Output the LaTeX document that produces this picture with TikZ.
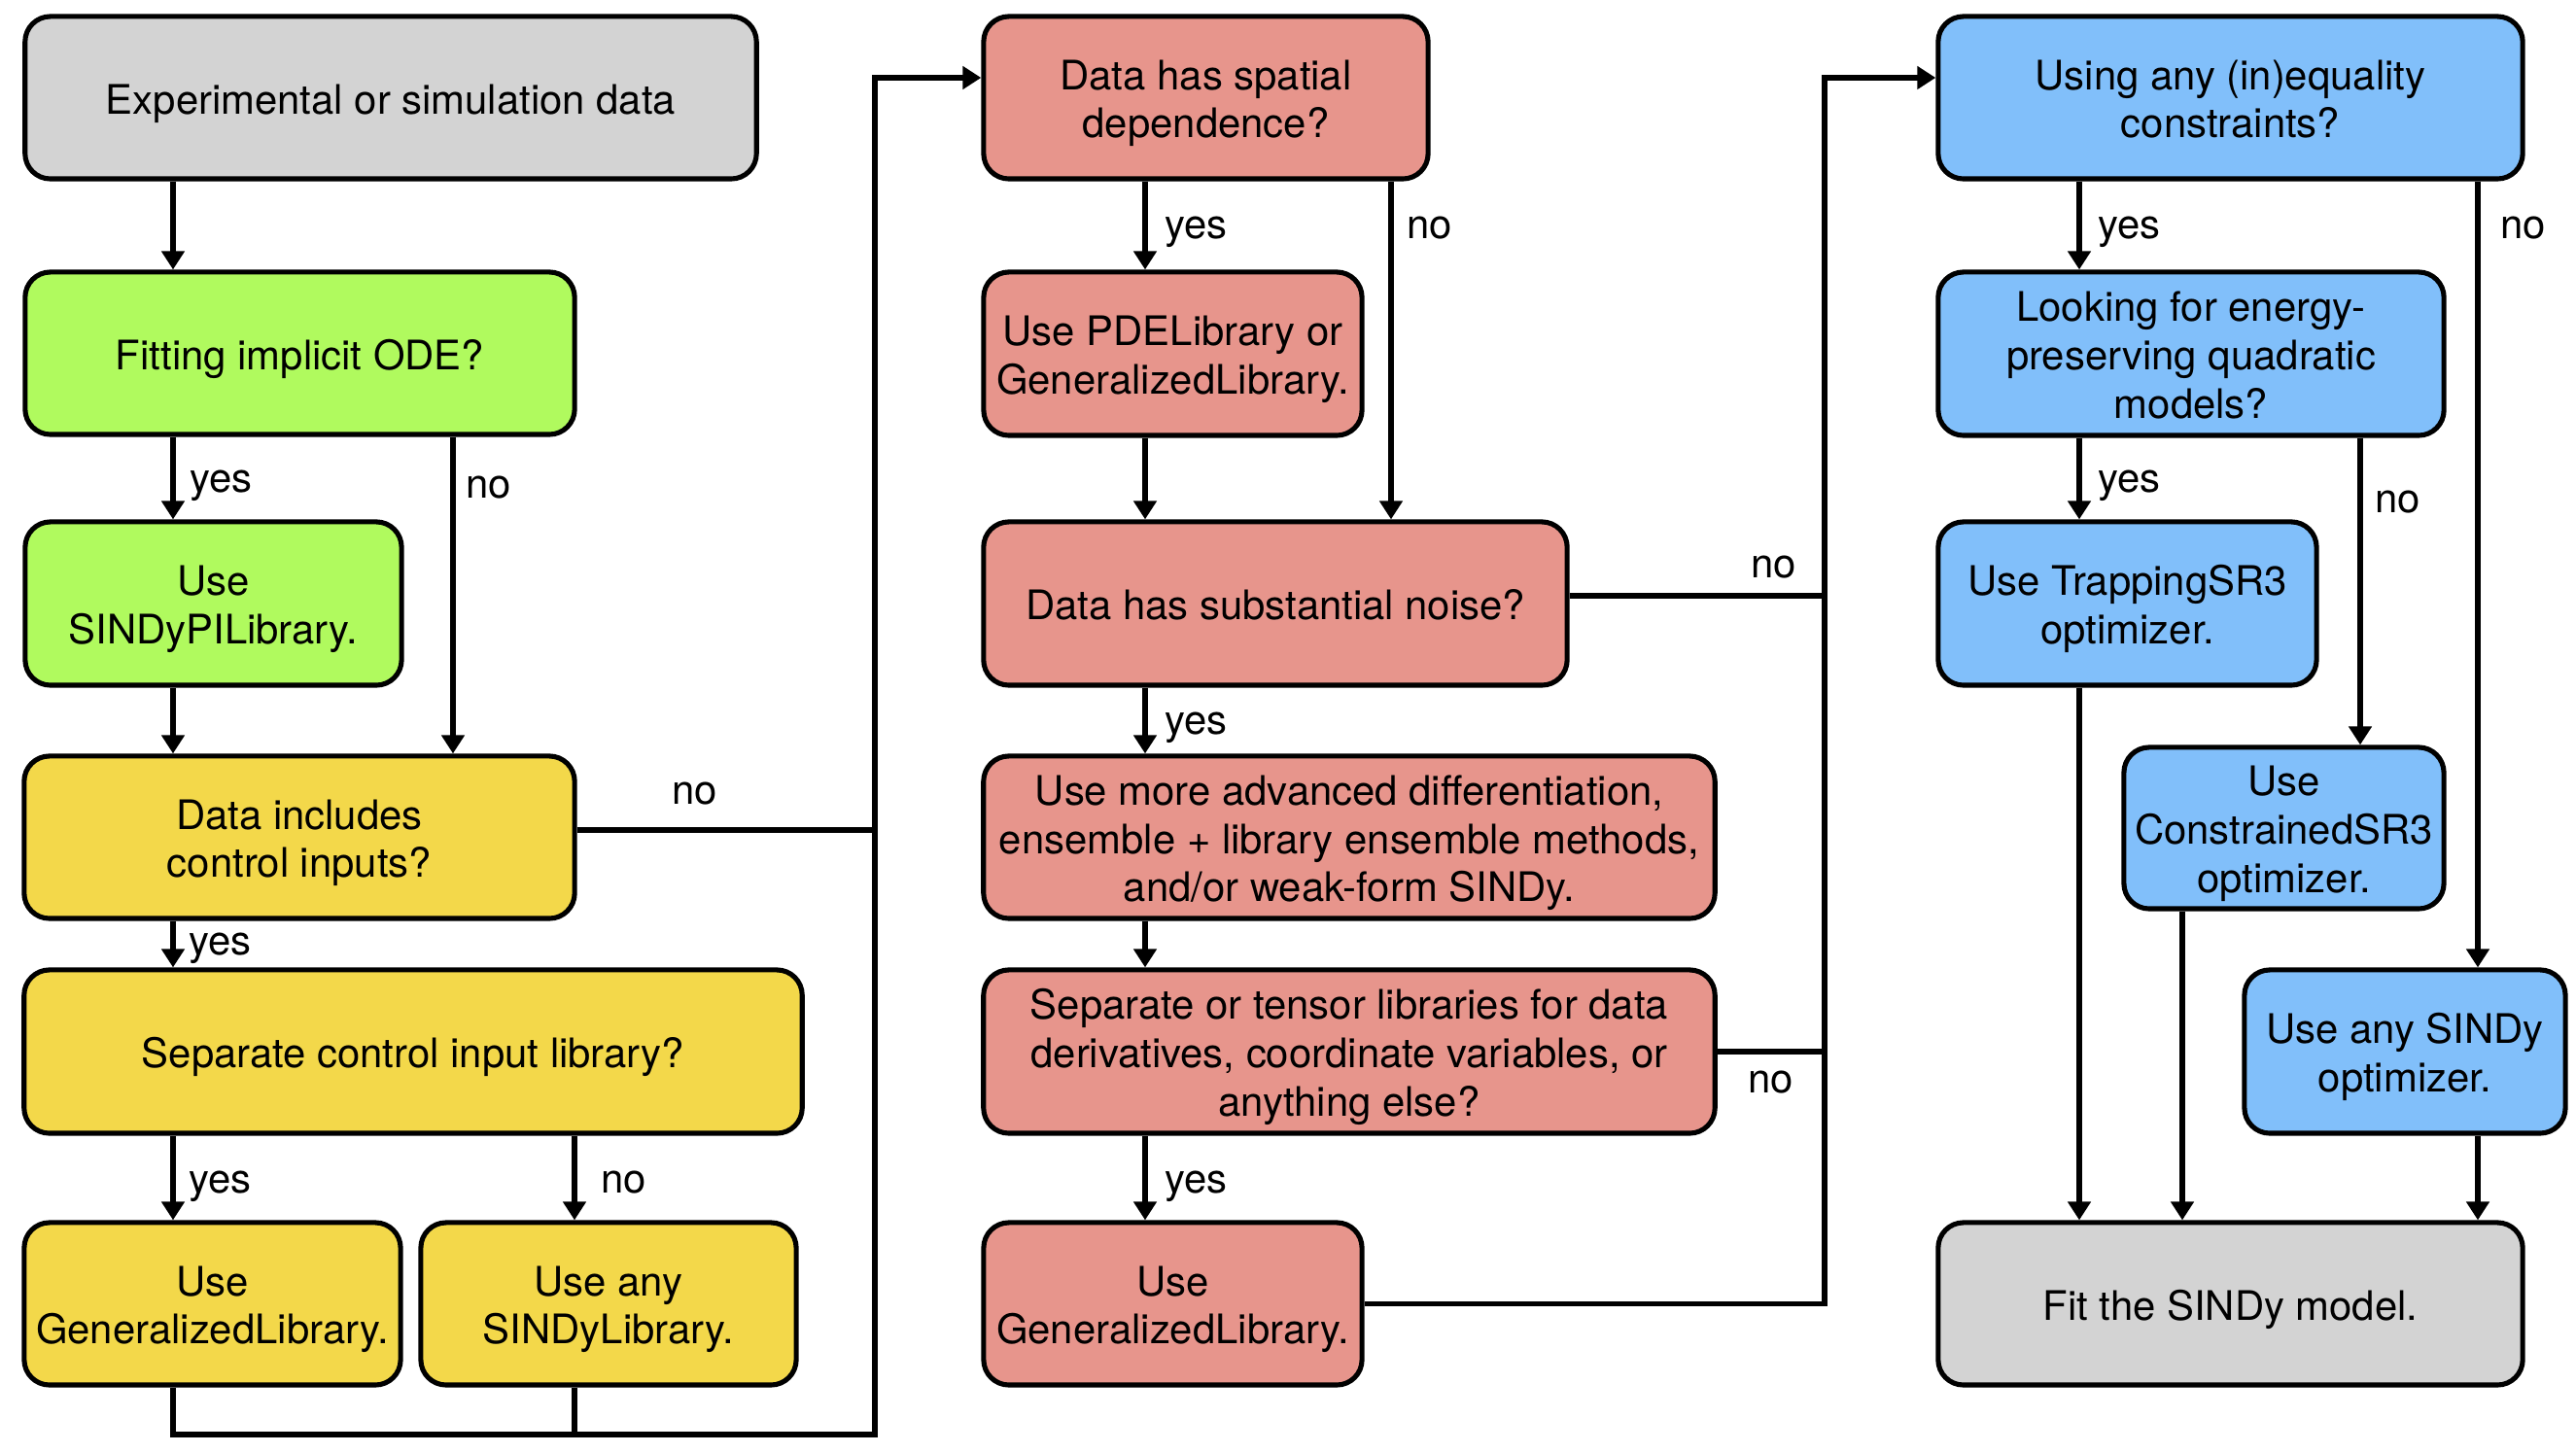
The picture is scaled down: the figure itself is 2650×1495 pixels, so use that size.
\documentclass[tikz,border=0pt]{standalone}
\usepackage{fontspec}
\setmainfont{TeX Gyre Heros}
\usetikzlibrary{arrows.meta}
\definecolor{grayb}{RGB}{211,211,211}
\definecolor{greenb}{RGB}{176,250,94}
\definecolor{yellowb}{RGB}{243,216,74}
\definecolor{redb}{RGB}{231,149,140}
\definecolor{blueb}{RGB}{129,191,250}
\newcommand\tp{\rule{0pt}{12pt}}
\newcommand\bt{\rule[-2.6pt]{0pt}{8pt}}
\tikzset{
  box/.style={draw=black, line width=1.45pt, rounded corners=0.26cm, align=center,
    minimum height=1.67cm, inner sep=2pt, font=\fontsize{11.9}{14.2}\selectfont},
  conn/.style={line width=1.45pt, draw=black},
  arr/.style={conn, -{Triangle[length=1.9mm,width=2.3mm]}},
  lab/.style={inner sep=0pt, anchor=base west, font=\fontsize{11.9}{14.2}\selectfont}
}
\begin{document}
\begin{tikzpicture}[x=0.01cm,y=-0.01cm]
\useasboundingbox (0,0) rectangle (2650,1495);
% column / row coordinates
\coordinate (cA) at (178,0);
\coordinate (cB) at (466,0);
\coordinate (cC) at (591,0);
\coordinate (cM) at (1178,0);
\coordinate (cN) at (1431,0);
\coordinate (cK) at (1877,0);
\coordinate (cR) at (2139,0);
\coordinate (cT) at (2428,0);
\coordinate (cU) at (2245,0);
\coordinate (cS) at (2549,0);
\coordinate (r0) at (0,80);
\coordinate (rdi) at (0,854);
\coordinate (rns) at (0,613);
\coordinate (j1) at (900,1476);

% left column
\node[box, fill=grayb, minimum width=7.52cm] (ex) at (402,100.5) {\tp Experimental or simulation data\bt};
\node[box, fill=greenb, minimum width=5.65cm] (fi) at (308.5,363.5) {\tp Fitting implicit ODE?\bt};
\node[box, fill=greenb, minimum width=3.87cm, minimum height=1.68cm] (pi) at (219.5,621) {\tp Use\\SINDyPILibrary.\bt};
\node[box, fill=yellowb, minimum width=5.66cm] (di) at (308,861.5) {\tp Data includes\\control inputs?\bt};
\node[box, fill=yellowb, minimum width=8.00cm, minimum height=1.68cm] (sc) at (425,1082) {\tp Separate control input library?\bt};
\node[box, fill=yellowb, minimum width=3.87cm] (gl) at (218.5,1341.5) {\tp Use\\GeneralizedLibrary.\bt};
\node[box, fill=yellowb, minimum width=3.86cm] (sl) at (626,1341.5) {\tp Use any\\SINDyLibrary.\bt};

% middle column
\node[box, fill=redb, minimum width=4.57cm] (sp) at (1240.5,100.5) {\tp Data has spatial\\dependence?\bt};
\node[box, fill=redb, minimum width=3.89cm, minimum height=1.68cm] (pd) at (1206.5,364) {\tp Use PDELibrary or\\GeneralizedLibrary.\bt};
\node[box, fill=redb, minimum width=6.00cm, minimum height=1.68cm] (ns) at (1312,621) {\tp Data has substantial noise?\bt};
\node[box, fill=redb, minimum width=7.52cm] (ad) at (1388,861.5) {\tp Use more advanced differentiation,\\ensemble + library ensemble methods,\\and/or weak-form SINDy.\bt};
\node[box, fill=redb, minimum width=7.52cm, minimum height=1.68cm] (ts) at (1388,1082) {\tp Separate or tensor libraries for data\\derivatives, coordinate variables, or\\anything else?\bt};
\node[box, fill=redb, minimum width=3.89cm] (gm) at (1206.5,1341.5) {\tp Use\\GeneralizedLibrary.\bt};

% right column
\node[box, fill=blueb, minimum width=6.01cm] (co) at (2294.5,100.5) {\tp Using any (in)equality\\constraints?\bt};
\node[box, fill=blueb, minimum width=5.20cm, minimum height=1.68cm] (lo) at (2254,364) {\tp Looking for energy-\\preserving quadratic\\models?\bt};
\node[box, fill=blueb, minimum width=3.89cm, minimum height=1.68cm] (tr) at (2188.5,621) {\tp Use TrappingSR3\\optimizer.\bt};
\node[box, fill=blueb, minimum width=3.29cm, minimum height=1.66cm] (cs) at (2349.5,852) {\tp Use\\ConstrainedSR3\\optimizer.\bt};
\node[box, fill=blueb, minimum width=3.30cm, minimum height=1.68cm] (as) at (2474,1082) {\tp Use any SINDy\\optimizer.\bt};
\node[box, fill=grayb, minimum width=6.01cm] (ft) at (2294.5,1341.5) {\tp Fit the SINDy model.\bt};

% left connectors
\draw[arr] (ex.south -| cA) -- (fi.north -| cA);
\draw[arr] (fi.south -| cA) -- (pi.north -| cA);
\draw[arr] (fi.south -| cB) -- (di.north -| cB);
\draw[arr] (pi.south -| cA) -- (di.north -| cA);
\draw[arr] (di.south -| cA) -- (sc.north -| cA);
\draw[arr] (sc.south -| cA) -- (gl.north -| cA);
\draw[arr] (sc.south -| cC) -- (sl.north -| cC);
\draw[conn] (di.east |- rdi) -- (j1 |- rdi);
\draw[conn] (sl.south -| cC) -- (cC |- j1);
\draw[arr] (gl.south -| cA) |- (j1) |- (sp.west |- r0);

% middle connectors
\draw[arr] (sp.south -| cM) -- (pd.north -| cM);
\draw[arr] (sp.south -| cN) -- (ns.north -| cN);
\draw[arr] (pd.south -| cM) -- (ns.north -| cM);
\draw[arr] (ns.south -| cM) -- (ad.north -| cM);
\draw[arr] (ad.south -| cM) -- (ts.north -| cM);
\draw[arr] (ts.south -| cM) -- (gm.north -| cM);
\draw[conn] (ns.east |- rns) -- (cK |- rns);
\draw[conn] (ts.east) -- (ts.east -| cK);
\draw[arr] (gm.east) -| (cK |- r0) -- (co.west |- r0);

% right connectors
\draw[arr] (co.south -| cR) -- (lo.north -| cR);
\draw[arr] (co.south -| cS) -- (as.north -| cS);
\draw[arr] (lo.south -| cR) -- (tr.north -| cR);
\draw[arr] (lo.south -| cT) -- (cs.north -| cT);
\draw[arr] (tr.south -| cR) -- (ft.north -| cR);
\draw[arr] (cs.south -| cU) -- (ft.north -| cU);
\draw[arr] (as.south -| cS) -- (ft.north -| cS);

% labels
\node[lab] (l1) at (195,507) {yes};
\node[lab] (l2) at (479,513) {no};
\node[lab] (l3) at (691,828) {no};
\node[lab] (l4) at (194,983) {yes};
\node[lab] (l5) at (194,1228) {yes};
\node[lab] (l6) at (618,1228) {no};
\node[lab] (l7) at (1198,246) {yes};
\node[lab] (l8) at (1447,246) {no};
\node[lab] (l9) at (1801,595) {no};
\node[lab] (l10) at (1198,756) {yes};
\node[lab] (l11) at (1798,1125) {no};
\node[lab] (l12) at (1198,1228) {yes};
\node[lab] (l13) at (2158,246) {yes};
\node[lab] (l14) at (2572,246) {no};
\node[lab] (l15) at (2158,507) {yes};
\node[lab] (l16) at (2443,528) {no};
\end{tikzpicture}
\end{document}
